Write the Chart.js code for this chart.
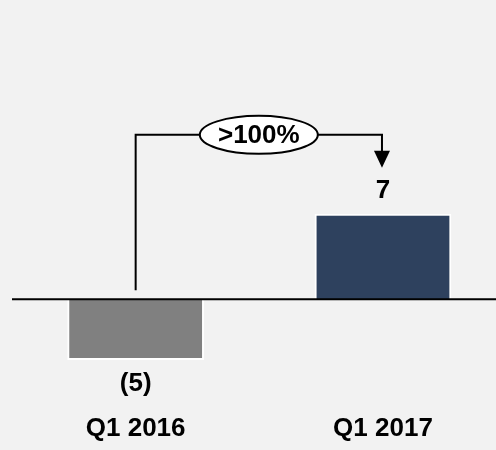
<!DOCTYPE html>
<html>
<head>
<meta charset="utf-8">
<script src="https://cdn.jsdelivr.net/npm/chart.js@4/dist/chart.umd.min.js"></script>
<style>
  html, body { margin: 0; padding: 0; background: #f2f2f2; }
  #wrap { width: 496px; height: 450px; }
</style>
</head>
<body>
<div id="wrap"><canvas id="growthChart" width="496" height="450"></canvas></div>
<script>
// data
const categories = ["Q1 2016", "Q1 2017"];
const values = [-5, 7];
const changeLabel = ">100%";

const barColors = ["#808080", "#2e415e"];
const FONT = "'Liberation Sans', Arial, sans-serif";

// negative numbers shown in brackets
const fmt = (v) => (v < 0 ? "(" + Math.abs(v) + ")" : String(v));

const baselinePlugin = {
  id: "baseline",
  afterDatasetsDraw(chart) {
    const { ctx, chartArea, scales } = chart;
    const y0 = scales.y.getPixelForValue(0);
    ctx.save();
    ctx.strokeStyle = "#000";
    ctx.lineWidth = 2;
    ctx.beginPath();
    ctx.moveTo(chartArea.left, y0);
    ctx.lineTo(chart.width, y0);
    ctx.stroke();
    ctx.restore();
  },
};

const labelsPlugin = {
  id: "valueLabels",
  afterDatasetsDraw(chart) {
    const { ctx } = chart;
    const meta = chart.getDatasetMeta(0);
    ctx.save();
    ctx.font = "bold 26px " + FONT;
    ctx.fillStyle = "#000";
    ctx.textAlign = "center";
    ctx.textBaseline = "middle";
    meta.data.forEach((bar, i) => {
      const v = values[i];
      const y = v < 0 ? bar.y + 24 : bar.y - 23;
      ctx.fillText(fmt(v), bar.x, y);
    });
    ctx.restore();
  },
};

// bracket arrow from first bar to second with the growth bubble
const arrowPlugin = {
  id: "growthArrow",
  afterDatasetsDraw(chart) {
    const { ctx, scales } = chart;
    const meta = chart.getDatasetMeta(0);
    const a = meta.data[0], b = meta.data[1];
    const y0 = scales.y.getPixelForValue(0);
    const topY = b.y - 79;
    const tipY = b.y - 46;
    const x1 = a.x, x2 = b.x - 1;
    ctx.save();
    ctx.strokeStyle = "#000";
    ctx.lineWidth = 2;
    ctx.beginPath();
    ctx.moveTo(x1, y0 - 9);
    ctx.lineTo(x1, topY);
    ctx.lineTo(x2, topY);
    ctx.lineTo(x2, tipY - 16);
    ctx.stroke();
    ctx.fillStyle = "#000";
    ctx.beginPath();
    ctx.moveTo(x2 - 8, tipY - 17);
    ctx.lineTo(x2 + 8, tipY - 17);
    ctx.lineTo(x2, tipY);
    ctx.closePath();
    ctx.fill();

    const cx = (x1 + x2) / 2;
    ctx.beginPath();
    ctx.ellipse(cx, topY, 59, 19, 0, 0, Math.PI * 2);
    ctx.fillStyle = "#fff";
    ctx.fill();
    ctx.stroke();
    ctx.font = "bold 26px " + FONT;
    ctx.fillStyle = "#000";
    ctx.textAlign = "center";
    ctx.textBaseline = "middle";
    ctx.fillText(changeLabel, cx, topY + 1);
    ctx.restore();
  },
};

new Chart(document.getElementById("growthChart"), {
  type: "bar",
  data: {
    datasets: [
      {
        data: values.map((v, i) => ({ x: i, y: v })),
        backgroundColor: barColors,
        borderColor: "#ffffff",
        borderWidth: 2,
        categoryPercentage: 1,
        barPercentage: 0.553,
      },
    ],
  },
  options: {
    responsive: false,
    animation: false,
    layout: { padding: { left: 12, right: 0, top: 0, bottom: 0 } },
    plugins: { legend: { display: false }, tooltip: { enabled: false } },
    scales: {
      x: {
        type: "linear",
        offset: false,
        min: -0.5,
        max: 1.457,
        grid: { display: false, drawTicks: false },
        border: { display: false },
        afterBuildTicks: (s) => {
          s.ticks = categories.map((c, i) => ({ value: i }));
        },
        ticks: {
          autoSkip: false,
          maxRotation: 0,
          padding: 8,
          color: "#000",
          font: { family: FONT, size: 26, weight: "bold", lineHeight: 1 },
          callback: (v) => categories[v],
        },
      },
      y: {
        display: false,
        min: -8.93,
        max: 24.54,
      },
    },
  },
  plugins: [baselinePlugin, labelsPlugin, arrowPlugin],
});
</script>
</body>
</html>
